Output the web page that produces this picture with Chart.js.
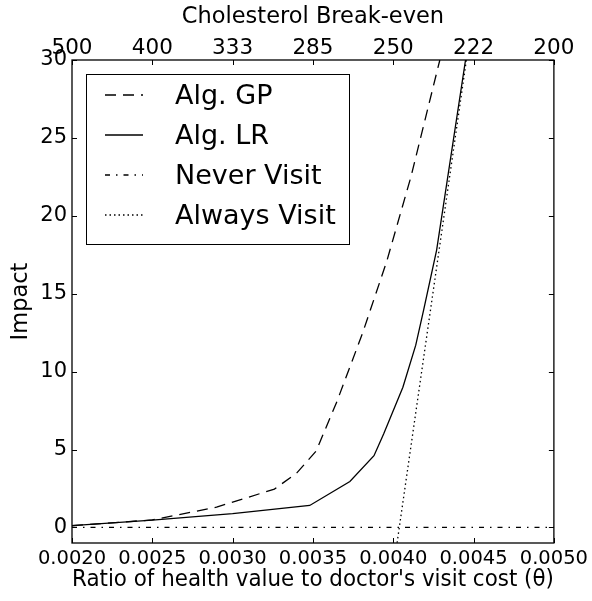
<!DOCTYPE html>
<html><head><meta charset="utf-8">
<script src="https://cdn.jsdelivr.net/npm/chart.js@4.4.1/dist/chart.umd.min.js"></script>
<style>html,body{margin:0;padding:0;background:#fff}</style>
</head><body>
<canvas id="c" width="592" height="601"></canvas>
<script>
const thetaTicks = [0.0020, 0.0025, 0.0030, 0.0035, 0.0040, 0.0045, 0.0050];
const cholTickLabels = ['500', '400', '333', '285', '250', '222', '200'];
const impactTicks = [0, 5, 10, 15, 20, 25, 30];

const gpTheta  = [0.0020, 0.0025, 0.0029, 0.00326, 0.0034, 0.00352, 0.00365, 0.00381, 0.00396, 0.00411, 0.00429];
const gpImpact = [0.12,   0.48,   1.30,   2.46,    3.50,   4.90,    8.10,    12.5,    17.1,    22.5,    30.0];

const lrTheta  = [0.0020, 0.0025, 0.0030, 0.00348, 0.00373, 0.00388, 0.00394, 0.00406, 0.00414, 0.00419, 0.00427, 0.00445];
const lrImpact = [0.12,   0.47,   0.88,   1.41,    2.95,    4.60,    6.00,    9.00,    11.7,    14.0,    17.8,    30.0];

const neverTheta  = [0.0020, 0.0050];
const neverImpact = [0, 0];

const alwaysTheta  = [0.0040, 0.0046];
const alwaysImpact = [-2.7, 40.4];

const seriesNames = ['Alg. GP', 'Alg. LR', 'Never Visit', 'Always Visit'];

const pts = (xs, ys) => xs.map((x, i) => ({x, y: ys[i]}));
const FONT = 'DejaVu Sans';

const mk = (label, data, dash) => ({
  label, data, borderColor: '#000', backgroundColor: '#000', borderWidth: 1.3,
  borderDash: dash, pointRadius: 0, showLine: true, clip: 0, tension: 0
});

const boxTicks = {
  id: 'boxTicks',
  afterDatasetsDraw(chart) {
    const {ctx, chartArea: a, scales} = chart;
    ctx.save();
    ctx.strokeStyle = '#000';
    ctx.lineWidth = 1;
    ctx.setLineDash([]);
    const L = 5;
    ctx.beginPath();
    thetaTicks.forEach(v => {
      const px = Math.round(scales.x.getPixelForValue(v)) + 0.5;
      ctx.moveTo(px, a.bottom); ctx.lineTo(px, a.bottom - L);
      ctx.moveTo(px, a.top); ctx.lineTo(px, a.top + L);
    });
    impactTicks.forEach(v => {
      const py = Math.round(scales.y.getPixelForValue(v)) + 0.5;
      ctx.moveTo(a.left, py); ctx.lineTo(a.left + L, py);
      ctx.moveTo(a.right, py); ctx.lineTo(a.right - L, py);
    });
    ctx.stroke();

    // legend
    const lx = a.left + 14, ly = a.top + 14, lw = 263, lh = 170;
    ctx.fillStyle = '#fff';
    ctx.fillRect(lx, ly, lw, lh);
    ctx.lineWidth = 1;
    ctx.strokeRect(lx + 0.5, ly + 0.5, lw, lh);
    ctx.font = '27px "' + FONT + '"';
    ctx.textBaseline = 'middle';
    ctx.fillStyle = '#000';
    chart.data.datasets.forEach((ds, i) => {
      const y = ly + 21 + i * 40;
      ctx.beginPath();
      ctx.lineWidth = ds.borderWidth;
      ctx.setLineDash(ds.borderDash || []);
      ctx.moveTo(lx + 19, y); ctx.lineTo(lx + 57, y);
      ctx.stroke();
      ctx.setLineDash([]);
      ctx.fillText(ds.label, lx + 89, y + 2);
    });

    // frame
    ctx.lineWidth = 1.3;
    ctx.strokeRect(a.left, a.top, a.right - a.left, a.bottom - a.top);
    ctx.restore();
  }
};

new Chart(document.getElementById('c'), {
  type: 'scatter',
  data: {
    datasets: [
      mk(seriesNames[0], pts(gpTheta, gpImpact), [11, 7]),
      mk(seriesNames[1], pts(lrTheta, lrImpact), []),
      mk(seriesNames[2], pts(neverTheta, neverImpact), [5, 6, 1.5, 6]),
      mk(seriesNames[3], pts(alwaysTheta, alwaysImpact), [1.5, 3])
    ]
  },
  options: {
    responsive: false,
    animation: false,
    layout: {padding: {left: 0, right: 37, top: 0, bottom: 0}},
    plugins: {legend: {display: false}, tooltip: {enabled: false}},
    scales: {
      x: {
        type: 'linear', position: 'bottom', min: 0.002, max: 0.005,
        afterBuildTicks: s => { s.ticks = thetaTicks.map(v => ({value: v})); },
        afterFit: s => { s.height = 58; },
        ticks: {color: '#000', font: {family: FONT, size: 19.5}, padding: 4,
                callback: v => Number(v).toFixed(4), maxRotation: 0, autoSkip: false},
        grid: {drawOnChartArea: false, drawTicks: false, display: false},
        border: {display: false},
        title: {display: true, text: "Ratio of health value to doctor's visit cost (θ)",
                color: '#000', font: {family: FONT, size: 22.5}, padding: {top: 0, bottom: 7}}
      },
      x2: {
        type: 'linear', position: 'top', min: 0.002, max: 0.005,
        afterBuildTicks: s => { s.ticks = thetaTicks.map(v => ({value: v})); },
        afterFit: s => { s.height = 60; },
        ticks: {color: '#000', font: {family: FONT, size: 21.5}, padding: -1,
                callback: (v, i) => cholTickLabels[i], maxRotation: 0, autoSkip: false},
        grid: {drawOnChartArea: false, drawTicks: false, display: false},
        border: {display: false},
        title: {display: true, text: 'Cholesterol Break-even',
                color: '#000', font: {family: FONT, size: 22.5}, padding: {top: 4, bottom: 0}}
      },
      y: {
        type: 'linear', position: 'left', min: -1, max: 30,
        afterBuildTicks: s => { s.ticks = impactTicks.map(v => ({value: v})); },
        afterFit: s => { s.width = 72; },
        ticks: {color: '#000', font: {family: FONT, size: 21}, padding: 5, autoSkip: false},
        grid: {drawOnChartArea: false, drawTicks: false, display: false},
        border: {display: false},
        title: {display: true, text: 'Impact', color: '#000',
                font: {family: FONT, size: 22.5}, padding: {top: 8, bottom: 0}}
      }
    }
  },
  plugins: [boxTicks]
});
</script>
</body></html>
